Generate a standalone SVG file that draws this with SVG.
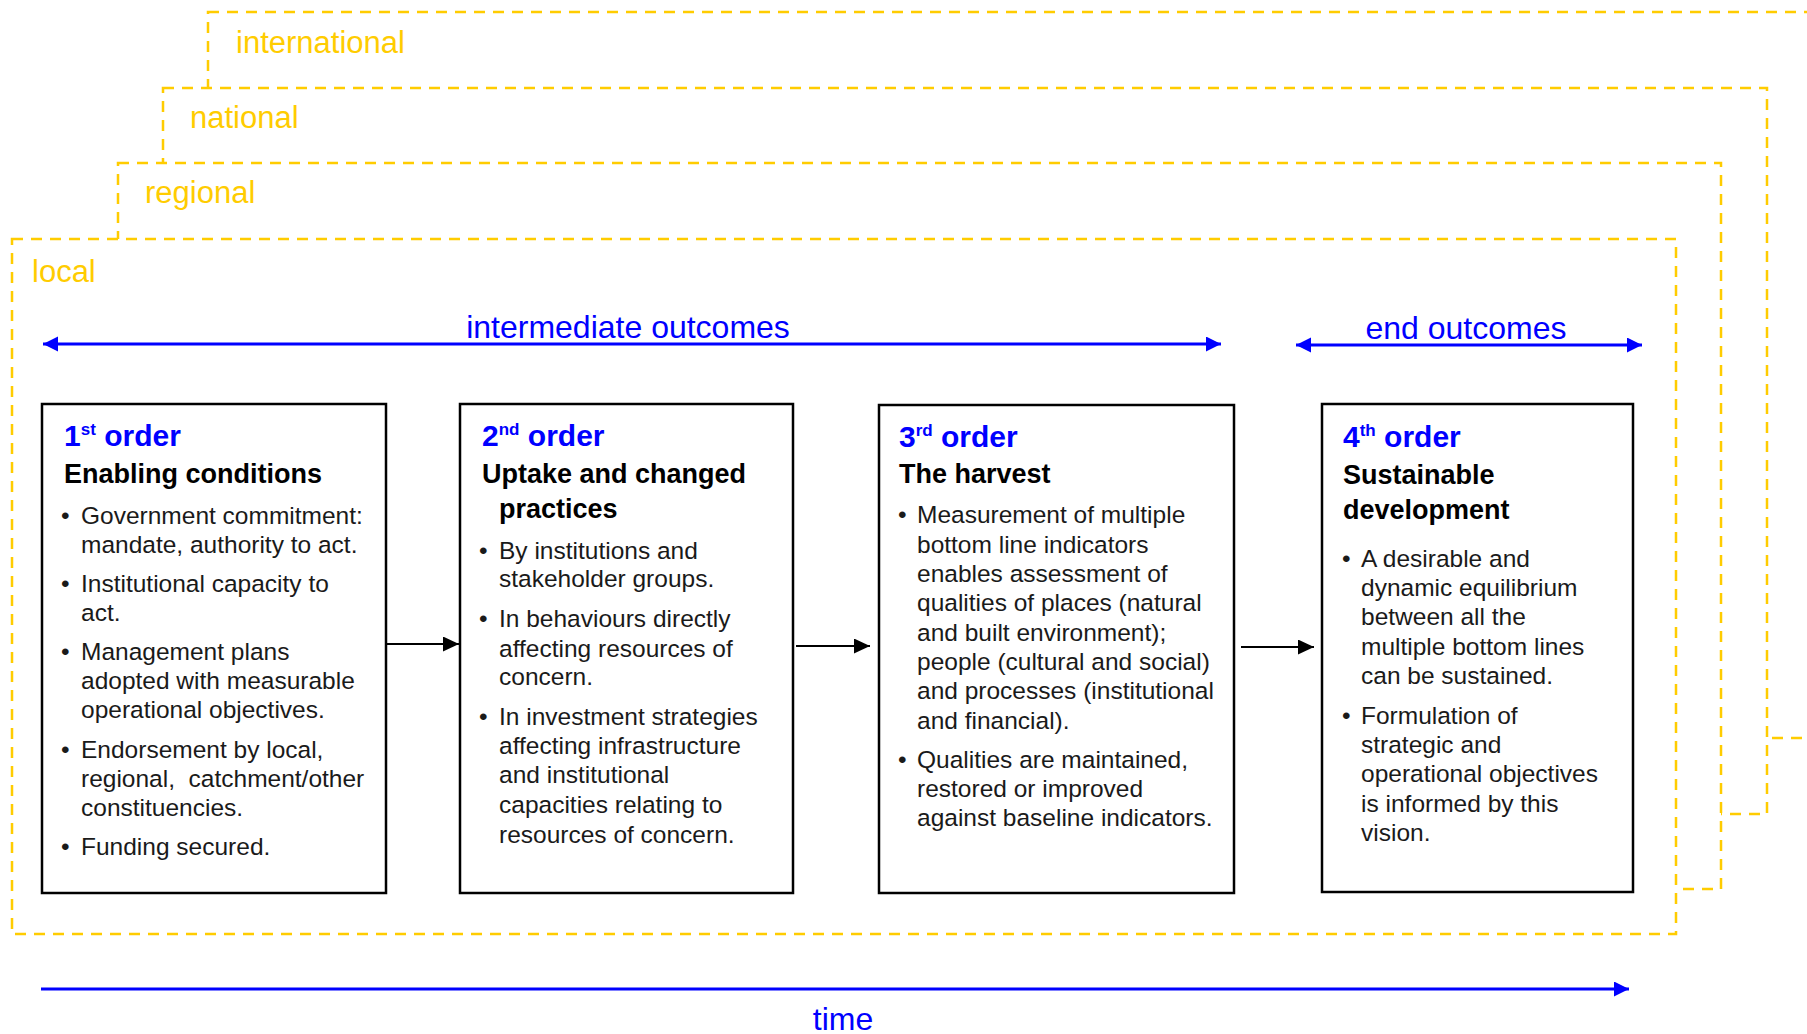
<svg xmlns="http://www.w3.org/2000/svg" width="1807" height="1034" viewBox="0 0 1807 1034">
<defs>
<style>
.scope{fill:#ffffff;stroke:#FFCC00;stroke-width:2.5;stroke-dasharray:11 8}
.scopelbl{font-family:"Liberation Sans",Arial,sans-serif;font-size:31px;fill:#FFCC00}
.box{fill:#ffffff;stroke:#000000;stroke-width:2.5}
.ord{font-family:"Liberation Sans",Arial,sans-serif;font-size:30px;font-weight:bold;fill:#0000FF}
.sup{font-size:17px}
.ttl{font-family:"Liberation Sans",Arial,sans-serif;font-size:27px;font-weight:bold;fill:#000000}
.body{font-family:"Liberation Sans",Arial,sans-serif;font-size:24.5px;fill:#1a1a1a}
.blue{stroke:#0000FF;stroke-width:3;fill:none}
.blk{stroke:#000000;stroke-width:2;fill:none}
.bluelbl{font-family:"Liberation Sans",Arial,sans-serif;font-size:32px;fill:#0000FF;text-anchor:middle}
</style>
<marker id="bh" markerUnits="userSpaceOnUse" markerWidth="16" markerHeight="16" refX="15" refY="7.5" orient="auto-start-reverse" viewBox="0 0 16 16">
<path d="M0,0 L15,7.5 L0,15 z" fill="#0000FF"/>
</marker>
<marker id="kh" markerUnits="userSpaceOnUse" markerWidth="17" markerHeight="16" refX="16" refY="7.5" orient="auto" viewBox="0 0 17 16">
<path d="M0,0 L16,7.5 L0,15 z" fill="#000000"/>
</marker>
</defs>
<rect width="1807" height="1034" fill="#ffffff"/>

<g id="scope-international">
<rect class="scope" x="208" y="12" width="1650" height="726"/>
<text class="scopelbl" x="236" y="53">international</text>
</g>
<g id="scope-national">
<rect class="scope" x="163" y="88" width="1604" height="726"/>
<text class="scopelbl" x="190" y="128">national</text>
</g>
<g id="scope-regional">
<rect class="scope" x="118" y="163" width="1603" height="726"/>
<text class="scopelbl" x="145" y="203">regional</text>
</g>
<g id="scope-local">
<rect class="scope" x="12" y="239" width="1664" height="695"/>
<text class="scopelbl" x="32" y="282">local</text>
</g>

<g id="outcome-bands">
<line class="blue" x1="43" y1="344" x2="1221" y2="344" marker-start="url(#bh)" marker-end="url(#bh)"/>
<text class="bluelbl" x="628" y="338">intermediate outcomes</text>
<line class="blue" x1="1296" y1="345" x2="1642" y2="345" marker-start="url(#bh)" marker-end="url(#bh)"/>
<text class="bluelbl" x="1466" y="339">end outcomes</text>
</g>

<g id="time-axis">
<line class="blue" x1="41" y1="989" x2="1629" y2="989" marker-end="url(#bh)"/>
<text class="bluelbl" x="843" y="1030">time</text>
</g>

<g id="node-1">
<rect class="box" x="42" y="404" width="344" height="489"/>
<text class="ord" x="64" y="446">1<tspan class="sup" dy="-11">st</tspan><tspan dy="11"> order</tspan></text>
<text class="ttl" x="64" y="483">Enabling conditions</text>
<g class="body">
<text x="61" y="524">•</text><text x="81" y="524">Government commitment:</text>
<text x="81" y="553">mandate, authority to act.</text>
<text x="61" y="592">•</text><text x="81" y="592">Institutional capacity to</text>
<text x="81" y="621">act.</text>
<text x="61" y="660">•</text><text x="81" y="660">Management plans</text>
<text x="81" y="689">adopted with measurable</text>
<text x="81" y="718">operational objectives.</text>
<text x="61" y="758">•</text><text x="81" y="758">Endorsement by local,</text>
<text x="81" y="787" xml:space="preserve">regional,  catchment/other</text>
<text x="81" y="816">constituencies.</text>
<text x="61" y="855">•</text><text x="81" y="855">Funding secured.</text>
</g>
</g>

<g id="node-2">
<rect class="box" x="460" y="404" width="333" height="489"/>
<text class="ord" x="482" y="446">2<tspan class="sup" dy="-11">nd</tspan><tspan dy="11"> order</tspan></text>
<text class="ttl" x="482" y="483">Uptake and changed</text>
<text class="ttl" x="499" y="518">practices</text>
<g class="body">
<text x="479" y="559">•</text><text x="499" y="559">By institutions and</text>
<text x="499" y="587">stakeholder groups.</text>
<text x="479" y="627">•</text><text x="499" y="627">In behaviours directly</text>
<text x="499" y="657">affecting resources of</text>
<text x="499" y="685">concern.</text>
<text x="479" y="725">•</text><text x="499" y="725">In investment strategies</text>
<text x="499" y="754">affecting infrastructure</text>
<text x="499" y="783">and institutional</text>
<text x="499" y="813">capacities relating to</text>
<text x="499" y="843">resources of concern.</text>
</g>
</g>

<g id="node-3">
<rect class="box" x="879" y="405" width="355" height="488"/>
<text class="ord" x="899" y="447">3<tspan class="sup" dy="-11">rd</tspan><tspan dy="11"> order</tspan></text>
<text class="ttl" x="899" y="483">The harvest</text>
<g class="body">
<text x="898" y="523">•</text><text x="917" y="523">Measurement of multiple</text>
<text x="917" y="553">bottom line indicators</text>
<text x="917" y="582">enables assessment of</text>
<text x="917" y="611">qualities of places (natural</text>
<text x="917" y="641">and built environment);</text>
<text x="917" y="670">people (cultural and social)</text>
<text x="917" y="699">and processes (institutional</text>
<text x="917" y="729">and financial).</text>
<text x="898" y="768">•</text><text x="917" y="768">Qualities are maintained,</text>
<text x="917" y="797">restored or improved</text>
<text x="917" y="826">against baseline indicators.</text>
</g>
</g>

<g id="node-4">
<rect class="box" x="1322" y="404" width="311" height="488"/>
<text class="ord" x="1343" y="447">4<tspan class="sup" dy="-11">th</tspan><tspan dy="11"> order</tspan></text>
<text class="ttl" x="1343" y="484">Sustainable</text>
<text class="ttl" x="1343" y="519">development</text>
<g class="body">
<text x="1342" y="567">•</text><text x="1361" y="567">A desirable and</text>
<text x="1361" y="596">dynamic equilibrium</text>
<text x="1361" y="625">between all the</text>
<text x="1361" y="655">multiple bottom lines</text>
<text x="1361" y="684">can be sustained.</text>
<text x="1342" y="724">•</text><text x="1361" y="724">Formulation of</text>
<text x="1361" y="753">strategic and</text>
<text x="1361" y="782">operational objectives</text>
<text x="1361" y="812">is informed by this</text>
<text x="1361" y="841">vision.</text>
</g>
</g>

<g id="connectors">
<line class="blk" x1="387" y1="644" x2="459" y2="644" marker-end="url(#kh)"/>
<line class="blk" x1="796" y1="646" x2="870" y2="646" marker-end="url(#kh)"/>
<line class="blk" x1="1241" y1="647" x2="1314" y2="647" marker-end="url(#kh)"/>
</g>
</svg>
